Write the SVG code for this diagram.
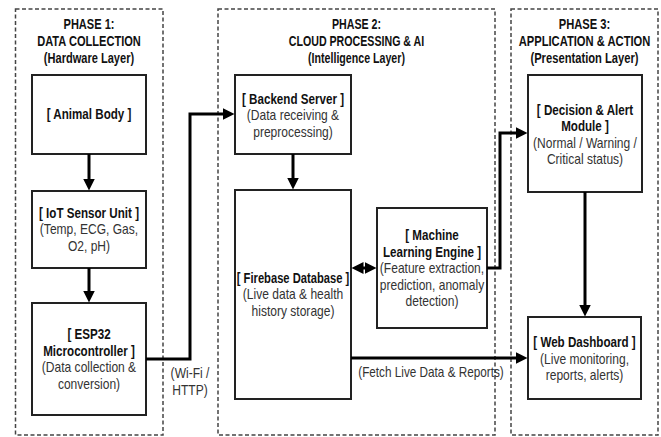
<svg xmlns="http://www.w3.org/2000/svg" width="661" height="437" viewBox="0 0 661 437">
  <style>
    .phase { fill: none; stroke: #444; stroke-width: 1.5; stroke-dasharray: 4 2.5; }
    .box { fill: #fff; stroke: #222; stroke-width: 2; }
    .head { font-family: "Liberation Sans", Arial, sans-serif; font-size: 14px; font-weight: bold; fill: #111; text-anchor: middle; }
    .title { font-family: "Liberation Sans", Arial, sans-serif; font-size: 14px; font-weight: bold; fill: #111; text-anchor: middle; }
    .sub { font-family: "Liberation Sans", Arial, sans-serif; font-size: 14px; fill: #333; text-anchor: middle; }
    .wire { fill: none; stroke: #000; stroke-width: 3; stroke-linejoin: miter; }
  </style>
  <defs>
    <marker id="arrow" markerUnits="userSpaceOnUse" markerWidth="13" markerHeight="13" refX="0.5" refY="6" orient="auto-start-reverse">
      <path d="M0,0 L12,6 L0,12 z" fill="#000"/>
    </marker>
  </defs>

  <rect width="661" height="437" fill="#fff"/>

  <!-- Phase containers -->
  <g id="phase1">
    <rect class="phase" x="15.5" y="9" width="147.5" height="426"/>
    <text class="head" transform="translate(89 0) scale(0.79 1)"><tspan x="0" y="29.5">PHASE 1:</tspan><tspan x="0" y="46.5">DATA COLLECTION</tspan><tspan x="0" y="63.5">(Hardware Layer)</tspan></text>
  </g>
  <g id="phase2">
    <rect class="phase" x="218" y="9" width="277" height="426"/>
    <text class="head" transform="translate(356.5 0) scale(0.76 1)"><tspan x="0" y="29.5">PHASE 2:</tspan><tspan x="0" y="46.5">CLOUD PROCESSING &amp; AI</tspan><tspan x="0" y="63.5">(Intelligence Layer)</tspan></text>
  </g>
  <g id="phase3">
    <rect class="phase" x="511" y="9" width="147" height="426"/>
    <text class="head" transform="translate(584.5 0) scale(0.8 1)"><tspan x="0" y="29.5">PHASE 3:</tspan><tspan x="0" y="46.5">APPLICATION &amp; ACTION</tspan><tspan x="0" y="63.5">(Presentation Layer)</tspan></text>
  </g>

  <!-- Nodes -->
  <g id="animal-body">
    <rect class="box" x="32" y="75" width="114" height="79"/>
    <text class="title" transform="translate(89 0) scale(0.83 1)"><tspan x="0" y="119.5">[ Animal Body ]</tspan></text>
  </g>
  <g id="iot-sensor">
    <rect class="box" x="32" y="191" width="114" height="77"/>
    <text class="title" transform="translate(89 0) scale(0.83 1)"><tspan x="0" y="218">[ IoT Sensor Unit ]</tspan></text>
    <text class="sub" transform="translate(89 0) scale(0.86 1)"><tspan x="0" y="234.5">(Temp, ECG, Gas,</tspan><tspan x="0" y="251">O2, pH)</tspan></text>
  </g>
  <g id="esp32">
    <rect class="box" x="32" y="303" width="114" height="112"/>
    <text class="title" transform="translate(89 0) scale(0.83 1)"><tspan x="0" y="339.5">[ ESP32</tspan><tspan x="0" y="356">Microcontroller ]</tspan></text>
    <text class="sub" transform="translate(89 0) scale(0.86 1)"><tspan x="0" y="372.5">(Data collection &amp;</tspan><tspan x="0" y="389">conversion)</tspan></text>
  </g>
  <g id="backend-server">
    <rect class="box" x="235" y="75" width="116" height="79"/>
    <text class="title" transform="translate(293 0) scale(0.83 1)"><tspan x="0" y="104">[ Backend Server ]</tspan></text>
    <text class="sub" transform="translate(293 0) scale(0.86 1)"><tspan x="0" y="120.5">(Data receiving &amp;</tspan><tspan x="0" y="137">preprocessing)</tspan></text>
  </g>
  <g id="firebase-db">
    <rect class="box" x="235" y="190" width="116" height="209"/>
    <text class="title" transform="translate(293 0) scale(0.8 1)"><tspan x="0" y="283">[ Firebase Database ]</tspan></text>
    <text class="sub" transform="translate(293 0) scale(0.86 1)"><tspan x="0" y="299.5">(Live data &amp; health</tspan><tspan x="0" y="316">history storage)</tspan></text>
  </g>
  <g id="ml-engine">
    <rect class="box" x="377" y="208" width="110" height="120"/>
    <text class="title" transform="translate(432 0) scale(0.83 1)"><tspan x="0" y="240.5">[ Machine</tspan><tspan x="0" y="257">Learning Engine ]</tspan></text>
    <text class="sub" transform="translate(432 0) scale(0.86 1)"><tspan x="0" y="273.5">(Feature extraction,</tspan><tspan x="0" y="290">prediction, anomaly</tspan><tspan x="0" y="306.5">detection)</tspan></text>
  </g>
  <g id="decision-alert">
    <rect class="box" x="528" y="75" width="114" height="117"/>
    <text class="title" transform="translate(585 0) scale(0.83 1)"><tspan x="0" y="115">[ Decision &amp; Alert</tspan><tspan x="0" y="131.5">Module ]</tspan></text>
    <text class="sub" transform="translate(585 0) scale(0.86 1)"><tspan x="0" y="148">(Normal / Warning /</tspan><tspan x="0" y="164.5">Critical status)</tspan></text>
  </g>
  <g id="web-dashboard">
    <rect class="box" x="528" y="317" width="113" height="82"/>
    <text class="title" transform="translate(584.5 0) scale(0.83 1)"><tspan x="0" y="347.5">[ Web Dashboard ]</tspan></text>
    <text class="sub" transform="translate(584.5 0) scale(0.86 1)"><tspan x="0" y="364">(Live monitoring,</tspan><tspan x="0" y="380.5">reports, alerts)</tspan></text>
  </g>

  <!-- Connectors -->
  <g id="connectors">
    <path class="wire" d="M89,154 V179" marker-end="url(#arrow)"/>
    <path class="wire" d="M89,268 V291" marker-end="url(#arrow)"/>
    <path class="wire" d="M146,359 H190 V114 H223" marker-end="url(#arrow)"/>
    <path class="wire" d="M293,154 V178" marker-end="url(#arrow)"/>
    <path class="wire" d="M363,268 H365" marker-start="url(#arrow)" marker-end="url(#arrow)"/>
    <path class="wire" d="M487,268 H500 V133 H516" marker-end="url(#arrow)"/>
    <path class="wire" d="M351,358 H516" marker-end="url(#arrow)"/>
    <path class="wire" d="M585,192 V305" marker-end="url(#arrow)"/>
    <text class="sub" transform="translate(190 0) scale(0.86 1)"><tspan x="0" y="378.5">(Wi-Fi /</tspan><tspan x="0" y="395.5">HTTP)</tspan></text>
    <text class="sub" transform="translate(431 0) scale(0.84 1)"><tspan x="0" y="377.5">(Fetch Live Data &amp; Reports)</tspan></text>
  </g>
</svg>
